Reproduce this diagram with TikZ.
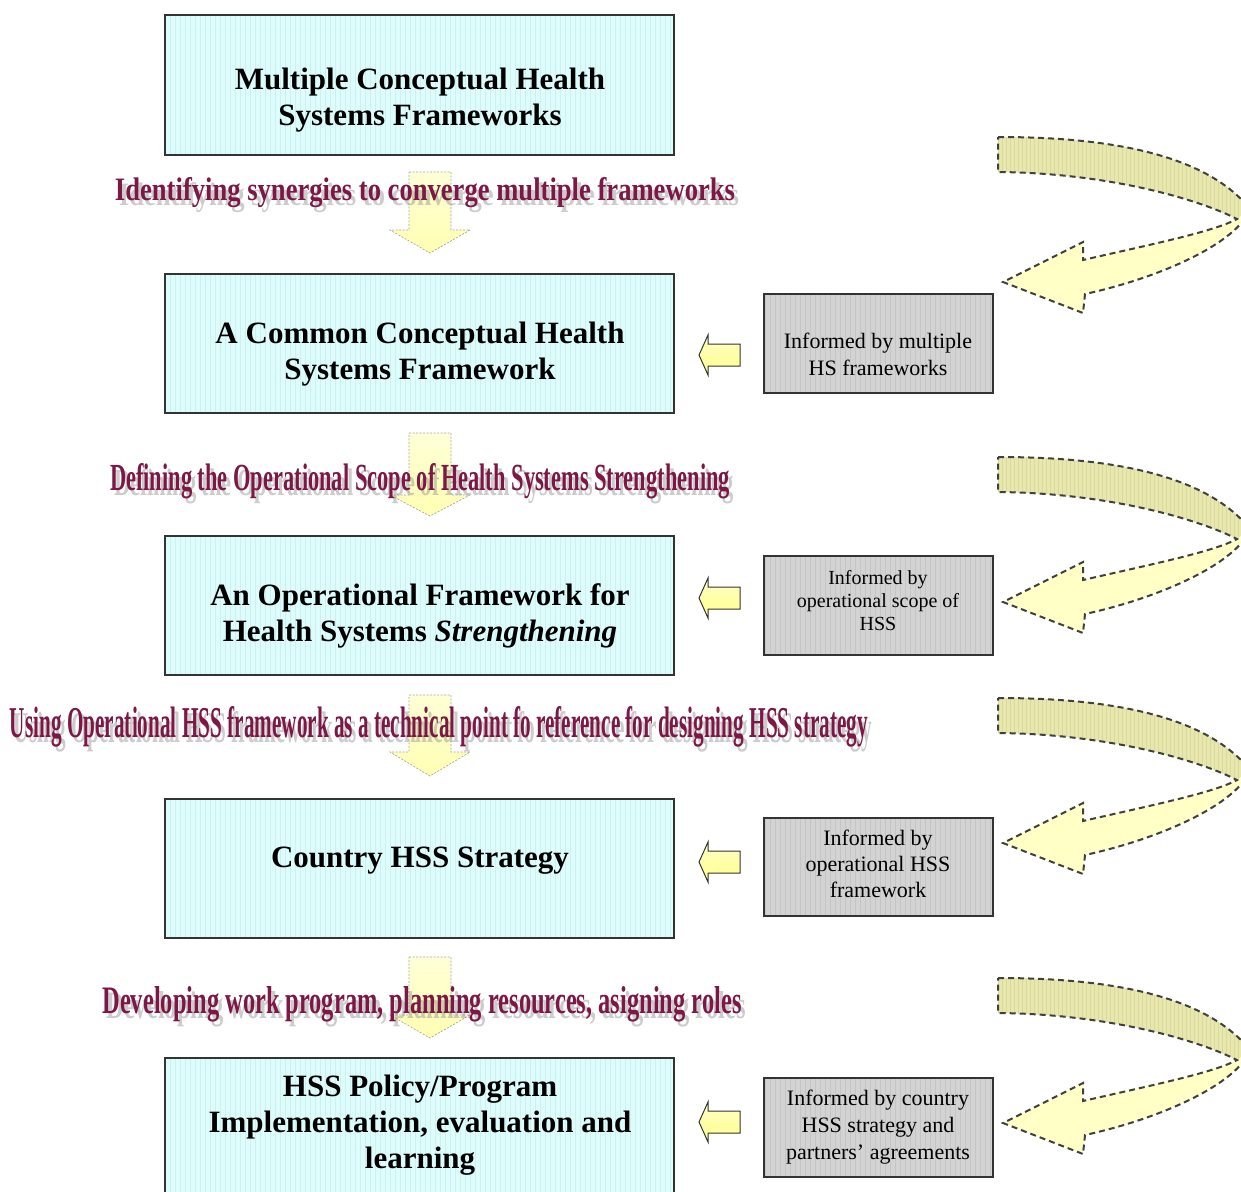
\documentclass[tikz,border=0pt]{standalone}
\usepackage{fontspec}
\setmainfont{Liberation Serif}
\usepackage{graphicx}
\definecolor{boxcyan}{HTML}{DDFCFC}
\definecolor{gridcyan}{HTML}{D0F0F0}
\definecolor{boxgray}{HTML}{D3D3D3}
\definecolor{gridgray}{HTML}{C5C5C5}
\definecolor{wordart}{HTML}{7D1745}
\definecolor{lightyel}{HTML}{FFFFC6}
\definecolor{darkyel}{HTML}{E8E8AC}
\definecolor{griddyel}{HTML}{DADAA0}
\definecolor{lineclr}{HTML}{333333}
\tikzset{
  boxline/.style={draw=lineclr, line width=1.4pt},
  maintext/.style={inner sep=0pt, align=center, font=\fontsize{31}{36}\selectfont\bfseries},
  graytext/.style={inner sep=0pt, align=center},
  wa/.style={inner sep=0pt, anchor=base, text=wordart},
  washadow/.style={inner sep=0pt, anchor=base, text=gray, opacity=0.4},
  downarr/.style={draw=gray!70, dash pattern=on 2pt off 1.5pt, line width=0.7pt, top color=lightyel!70!white, bottom color=lightyel!90!yellow},
  leftarr/.style={draw=lineclr, line width=1pt, top color=lightyel, bottom color=yellow!30!lightyel},
  curvedash/.style={draw=black!75, dash pattern=on 6pt off 4pt, line width=2pt}
}
\newcommand\gridrect[6]{%
  \fill[#5] (#1,#2) rectangle (#3,#4);
  \draw[#6, line width=0.3pt, step=5] (#1,#2) grid (#3,#4);
  \draw[boxline] (#1,#2) rectangle (#3,#4);}
\newcommand\curvedarrow[1]{%
  \begin{scope}[shift={(998,#1)}]
    \fill[lightyel] (0,0) .. controls (120,0) and (210,20) .. (252,72) .. controls (240,105) and (165,140) .. (87,157) -- (85,176) -- (5,145) -- (85,105) -- (85,123) .. controls (150,108) and (215,95) .. (239,82) .. controls (200,62) and (110,36) .. (0,35) -- cycle;
    \begin{scope}
      \clip (0,0) .. controls (120,0) and (210,20) .. (252,72) -- (239,82) .. controls (200,62) and (110,36) .. (0,35) -- cycle;
      \fill[darkyel] (-5,-5) rectangle (260,90);
      \draw[griddyel, line width=0.3pt, step=4] (-5,-5) grid (260,90);
    \end{scope}
    \path[curvedash] (0,0) .. controls (120,0) and (210,20) .. (252,72) .. controls (240,105) and (165,140) .. (87,157) -- (85,176) -- (5,145) -- (85,105) -- (85,123) .. controls (150,108) and (215,95) .. (239,82) .. controls (200,62) and (110,36) .. (0,35) -- cycle;
  \end{scope}}
\newcommand\smallarrow[1]{%
  \begin{scope}[shift={(0,#1)}]
    \path[leftarr] (699,0) -- (708,-20) -- (708,-11) -- (740,-11) -- (740,11) -- (708,11) -- (708,20) -- cycle;
  \end{scope}}
\newcommand\dnarrow[3]{% top, head base, tip
  \path[downarr] (409,#1) -- (451,#1) -- (451,#2) -- (470,#2) -- (430,#3) -- (390,#2) -- (409,#2) -- cycle;}
\newcommand\wordart[6]{%
  \node[washadow] at (#2+4,#3+5) {\resizebox{#4pt}{#5pt}{\fontsize{28}{30}\selectfont\bfseries #6}};
  \node[wa] (#1) at (#2,#3) {\resizebox{#4pt}{#5pt}{\fontsize{28}{30}\selectfont\bfseries #6}};}
\begin{document}
\begin{tikzpicture}[x=1pt,y=-1pt]
\useasboundingbox (0,0) rectangle (1241,1191);
\clip (0,0) rectangle (1241,1191);
\fill[white] (0,0) rectangle (1241,1191);

% main boxes
\gridrect{165}{15}{674}{155}{boxcyan}{gridcyan}
\gridrect{165}{274}{674}{413}{boxcyan}{gridcyan}
\gridrect{165}{536}{674}{675}{boxcyan}{gridcyan}
\gridrect{165}{799}{674}{938}{boxcyan}{gridcyan}
\gridrect{165}{1058}{674}{1205}{boxcyan}{gridcyan}

\node[maintext] (m1) at (420,100) {Multiple Conceptual Health\\Systems Frameworks};
\node[maintext] (m2) at (420,354) {A Common Conceptual Health\\Systems Framework};
\node[maintext] (m3) at (420,616) {An Operational Framework for\\Health Systems \textit{Strengthening}};
\node[maintext] (m4) at (420,861) {Country HSS Strategy};
\node[maintext] (m5) at (420,1125) {HSS Policy/Program\\Implementation, evaluation and\\learning};

% gray boxes
\gridrect{764}{294}{993}{393}{boxgray}{gridgray}
\gridrect{764}{556}{993}{655}{boxgray}{gridgray}
\gridrect{764}{818}{993}{916}{boxgray}{gridgray}
\gridrect{764}{1078}{993}{1177}{boxgray}{gridgray}

\node[graytext, font=\fontsize{22}{27}\selectfont] (g1) at (878,354) {Informed by multiple\\HS frameworks};
\node[graytext, font=\fontsize{20}{23}\selectfont] (g2) at (878,601) {Informed by\\operational scope of\\HSS};
\node[graytext, font=\fontsize{22}{26}\selectfont] (g3) at (878,864) {Informed by\\operational HSS\\framework};
\node[graytext, font=\fontsize{22}{27}\selectfont] (g4) at (878,1127) {Informed by country\\HSS strategy and\\partners' agreements};

% small left arrows
\smallarrow{355}
\smallarrow{598}
\smallarrow{862}
\smallarrow{1122}

% curved arrows
\curvedarrow{137}
\curvedarrow{457}
\curvedarrow{698}
\curvedarrow{978}

% down arrows
\dnarrow{172}{230}{253}
\dnarrow{433}{495}{516}
\dnarrow{695}{752}{776}
\dnarrow{957}{1015}{1038}

% word-art captions
\wordart{w1}{425}{200}{620}{23}{Identifying synergies to converge multiple frameworks}
\wordart{w2}{420}{490}{620}{27}{Defining the Operational Scope of Health Systems Strengthening}
\wordart{w3}{439}{737}{858}{31}{Using Operational HSS framework as a technical point fo reference for designing HSS strategy}
\wordart{w4}{422}{1013}{639}{27}{Developing work program, planning resources, asigning roles}
\end{tikzpicture}
\end{document}
